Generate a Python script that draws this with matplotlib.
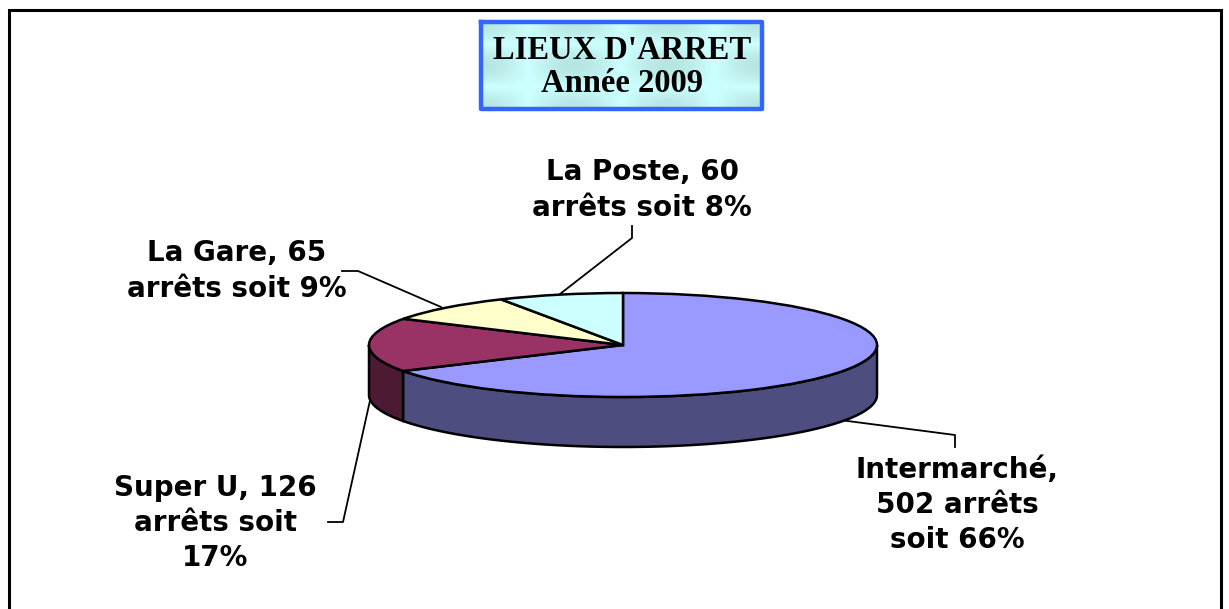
import numpy as np
import matplotlib
matplotlib.use('Agg')
import matplotlib.pyplot as plt

# data
lieux = ['Intermarché', 'Super U', 'La Gare', 'La Poste']
arrets = [502, 126, 65, 60]
couleurs = ['#9999ff', '#993366', '#ffffcc', '#ccffff']
couleurs_cote = ['#4d4d80', '#4d1a33', '#808066', '#668080']
etiquettes = ['Intermarché,\n502 arrêts\nsoit 66%',
              'Super U, 126\narrêts soit\n17%',
              'La Gare, 65\narrêts soit 9%',
              'La Poste, 60\narrêts soit 8%']
titre = "LIEUX D'ARRET\nAnnée 2009"

W, H = 1229, 609
fig = plt.figure(figsize=(W / 100, H / 100), dpi=100)

# background axes in pixel coords, for frame, labels and leader lines
bg = fig.add_axes([0, 0, 1, 1])
bg.set_xlim(0, W)
bg.set_ylim(H, 0)
bg.axis('off')

# outer frame (bottom edge is cut by the image)
bg.plot([9, 9, 1221, 1221], [609, 10, 10, 609], color='black', lw=2.2, solid_joinstyle='miter')

# title box with a soft textured fill
xx, yy = np.meshgrid(np.linspace(0, 1, 200), np.linspace(0, 1, 70))
texture = np.abs(np.cos(xx * 3 * np.pi)) * np.abs(np.cos(yy * 2 * np.pi))
bg.imshow(texture, extent=(481, 762, 109, 22), aspect='auto', zorder=1,
          cmap=matplotlib.colors.LinearSegmentedColormap.from_list('t', ['#ccffff', '#b6e6e2']))
bg.set_xlim(0, W)
bg.set_ylim(H, 0)
bg.plot([481, 762, 762, 481, 481], [22, 22, 109, 109, 22], color='#3366ff', lw=3.2, zorder=2)
bg.text(622, 67, titre, ha='center', va='center', fontsize=23.5, fontweight='bold',
        family='Liberation Serif', linespacing=1.12, zorder=3)

# pie: ellipse centre (623, 345), radii 254 / 52, height 50 px
cx, cy, rx, ry, depth = 623, 345, 254, 52, 50
pie_ax = fig.add_axes([(cx - rx) / W, 1 - (cy + ry + depth) / H, 2 * rx / W, (2 * ry + depth) / H])
pie_ax.set_zorder(0.5)

wedges, _ = pie_ax.pie(arrets, colors=couleurs, startangle=90, counterclock=False, radius=1,
                       wedgeprops={'edgecolor': 'black', 'linewidth': 1.8, 'zorder': 3})
pie_ax.set_aspect('auto')
pie_ax.set_xlim(-1, 1)
pie_ax.set_ylim(-1 - depth / ry, 1)
pie_ax.axis('off')
for w in wedges:
    w.set_clip_on(False)

# side wall, only the front half of the ellipse shows
h = depth / ry
angles = 90 - np.cumsum([0] + arrets) / sum(arrets) * 360
for i in range(len(arrets)):
    a1, a0 = angles[i], angles[i + 1]
    a = max(a0, -180), min(a1, 0)
    if a[0] >= a[1]:
        continue
    t = np.radians(np.linspace(a[0], a[1], 80))
    x, y = np.cos(t), np.sin(t)
    pie_ax.fill(np.r_[x, x[::-1]], np.r_[y, y[::-1] - h], facecolor=couleurs_cote[i],
                edgecolor='black', lw=1.8, zorder=2, clip_on=False)

# leader lines
bg.plot([955, 955, 840], [447, 435, 420], color='black', lw=1.3, zorder=4)
bg.plot([328, 343, 371], [522, 522, 396], color='black', lw=1.3, zorder=4)
bg.plot([342, 358, 441], [271, 271, 307], color='black', lw=1.3, zorder=4)
bg.plot([632, 632, 560], [226, 238, 294], color='black', lw=1.3, zorder=4)

# labels
positions = [(957, 505), (215, 523), (237, 271), (642, 190)]
for lab, (x, y) in zip(etiquettes, positions):
    bg.text(x, y, lab, ha='center', va='center', fontsize=20, fontweight='bold',
            family='DejaVu Sans', linespacing=1.33, zorder=5)

fig.savefig('out.png', dpi=100)
